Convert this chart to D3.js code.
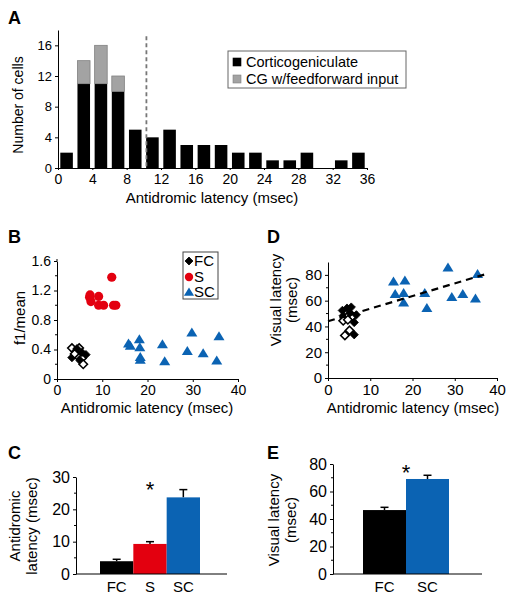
<!DOCTYPE html>
<html><head><meta charset="utf-8">
<script src="https://cdn.jsdelivr.net/npm/d3@7"></script>
<style>body{margin:0;background:#fff} svg text{font-family:"Liberation Sans",Arial,sans-serif;fill:#000}</style>
</head><body><svg id="c" width="511" height="600"></svg>
<script>
// ---------- Panel A: histogram ----------
const histBinStart = [0,2,4,6,8,10,12,14,16,18,20,22,24,26,28,30,32,34];
const histCG       = [2,11,11,10,5,4,5,3,3,3,2,2,1,1,2,0,1,2];
const histFF       = [0,3,5,2,0,0,0,0,0,0,0,0,0,0,0,0,0,0];
const histXTicks   = [0,4,8,12,16,20,24,28,32,36];
const histYTicks   = [0,4,8,12,16];
const legendA      = ["Corticogeniculate","CG w/feedforward input"];
const cutoffLatency = 10.3;

// ---------- Panel B: f1/mean vs antidromic latency ----------
const fcB_x    = [3.3,4.9,4.0,6.4,3.3,4.4,5.5,5.1,5.8,5.5,4.4,3.9];
const fcB_y    = [0.42,0.42,0.37,0.33,0.29,0.32,0.28,0.25,0.20,0.36,0.41,0.34];
const fcB_open = [1,1,0,0,0,1,1,0,1,0,0,1];
const sB_x     = [7.2,7.5,7.3,9.2,9.2,10.3,12.1,12.5,13.0];
const sB_y     = [1.11,1.05,1.14,1.12,1.0,1.0,1.38,1.0,1.0];
const scB_x    = [15.8,16.2,18.2,18.3,18.4,18.4,23.3,23.8,28.8,29.8,32.3,35.3,35.8];
const scB_y    = [0.48,0.45,0.54,0.43,0.30,0.26,0.47,0.24,0.38,0.63,0.35,0.25,0.58];
const bXTicks  = [0,10,20,30,40];
const bYTicks  = [0,0.4,0.8,1.2,1.6];
const legendB  = ["FC","S","SC"];

// ---------- Panel D: visual latency vs antidromic latency ----------
const fcD_x    = [3.4,5.5,4.5,3.6,4.7,5.8,6.7,3.6,4.7,6.2,4.0,5.1,6.2,5.2];
const fcD_y    = [52.4,55,54.2,48.3,47.8,47.8,49,44.4,45.2,43.1,33.0,36.9,33.6,50.5];
const fcD_open = [0,0,0,0,1,1,0,1,1,0,1,1,0,0];
const scD_x    = [15.5,18.2,15.9,17.9,17.9,22.9,23.4,28.4,29.3,31.9,34.9,35.4];
const scD_y    = [74.9,75.7,65.1,65.9,58.6,65.9,54.3,85.7,62.8,65.1,61.7,80.6];
const fitIntercept = 44, fitSlope = 0.98, fitXRange = [0, 37.5];
const dXTicks  = [0,10,20,30,40];
const dYTicks  = [0,20,40,60,80];

// ---------- Panel C: antidromic latency by class ----------
const cCats  = ["FC","S","SC"];
const cMeans = [3.95,9.3,23.7];
const cSems  = [0.6,0.7,2.4];
const cYTicks = [0,10,20,30];

// ---------- Panel E: visual latency by class ----------
const eCats  = ["FC","SC"];
const eMeans = [46.5,69.1];
const eSems  = [2.0,2.7];
const eYTicks = [0,20,40,60,80];

const RED = "#e3000f", BLUE = "#0b63b3", GRAY = "#a3a3a3";
const svg = d3.select("#c");

function styleAxis(g, fs){
  g.attr("font-size", null).attr("font-family", null);
  g.selectAll("text").style("font-size", fs+"px");
  g.selectAll("path,line").attr("stroke","#000");
}
function label(t,x,y){ svg.append("text").attr("x",x).attr("y",y).attr("font-weight","bold").style("font-size","18px").text(t); }
function title(t,x,y,fs,rot){
  const s = svg.append("text").attr("text-anchor","middle").style("font-size",fs+"px").text(t);
  if(rot) s.attr("transform",`translate(${x},${y}) rotate(-90)`); else s.attr("x",x).attr("y",y);
}
function minor(x0, yScale, vals, len){
  svg.append("g").selectAll("line").data(vals).join("line")
    .attr("x1",x0).attr("x2",x0-len).attr("y1",d=>yScale(d)).attr("y2",d=>yScale(d)).attr("stroke","#000");
}
function diamond(g, x, y, open, s){
  g.append("path").attr("d",`M${x},${y-s}L${x+s},${y}L${x},${y+s}L${x-s},${y}Z`)
   .attr("fill", open? "#fff":"#000").attr("stroke","#000").attr("stroke-width", open?1.6:0.8);
}
function tri(g, x, y, s, col){
  g.append("path").attr("d",`M${x},${y-s}L${x+s*1.1},${y+s*0.8}L${x-s*1.1},${y+s*0.8}Z`).attr("fill",col);
}

// ===== Panel A =====
{
  const x = d3.scaleLinear().domain([0,36]).range([58,367]);
  const y = d3.scaleLinear().domain([0,18]).range([168,30]);
  const inset = 2.3, bw = x(2)-x(0)-2*inset;
  const g = svg.append("g");
  histBinStart.forEach((b,i)=>{
    if(histCG[i]>0) g.append("rect").attr("x",x(b)+inset).attr("width",bw)
      .attr("y",y(histCG[i])).attr("height",y(0)-y(histCG[i])).attr("fill","#000");
    if(histFF[i]>0) g.append("rect").attr("x",x(b)+inset).attr("width",bw)
      .attr("y",y(histCG[i]+histFF[i])).attr("height",y(histCG[i])-y(histCG[i]+histFF[i]))
      .attr("fill",GRAY).attr("stroke","#808080").attr("stroke-width",0.8);
  });
  svg.append("line").attr("x1",x(cutoffLatency)).attr("x2",x(cutoffLatency)).attr("y1",y(17.2)).attr("y2",y(0))
    .attr("stroke","#777").attr("stroke-width",1.8).attr("stroke-dasharray","4,3");
  const ya = svg.append("g").attr("transform","translate(58,0)")
    .call(d3.axisLeft(y).tickValues(histYTicks).tickSize(3).tickSizeOuter(0).tickPadding(3));
  styleAxis(ya,13);
  const xa = svg.append("g").attr("transform","translate(0,168)")
    .call(d3.axisBottom(x).tickValues(histXTicks).tickSize(2).tickSizeOuter(0).tickPadding(4));
  styleAxis(xa,14);
  // legend
  svg.append("rect").attr("x",228).attr("y",51).attr("width",178).attr("height",37).attr("fill","#fff").attr("stroke","#666").attr("stroke-width",1);
  legendA.forEach((t,i)=>{
    svg.append("rect").attr("x",233).attr("y",58+i*17).attr("width",8).attr("height",8).attr("fill", i?GRAY:"#000").attr("stroke",i?"#808080":"#000").attr("stroke-width",0.6);
    svg.append("text").attr("x",246).attr("y",67+i*17).style("font-size","14.5px").text(t);
  });
  label("A",8,24);
  title("Number of cells",23,105,14,true);
  title("Antidromic latency (msec)",212,203,15,false);
}

// ===== Panel B =====
{
  const x = d3.scaleLinear().domain([0,40]).range([57,238]);
  const y = d3.scaleLinear().domain([0,1.6]).range([379,261]);
  const ya = svg.append("g").attr("transform","translate(57,0)")
    .call(d3.axisLeft(y).tickValues(bYTicks).tickFormat(d=>d===0?"0":d3.format(".1f")(d)).tickSize(3).tickSizeOuter(0).tickPadding(3));
  styleAxis(ya,14);
  svg.append("line").attr("x1",57).attr("x2",57).attr("y1",259).attr("y2",261).attr("stroke","#000");
  minor(57,y,[0.2,0.6,1.0,1.4],2);
  const xa = svg.append("g").attr("transform","translate(0,379)")
    .call(d3.axisBottom(x).tickValues(bXTicks).tickSize(3).tickSizeOuter(0).tickPadding(3));
  styleAxis(xa,14);
  const g = svg.append("g");
  fcB_x.forEach((v,i)=>diamond(g,x(v),y(fcB_y[i]),fcB_open[i],4.2));
  sB_x.forEach((v,i)=>g.append("circle").attr("cx",x(v)).attr("cy",y(sB_y[i])).attr("r",4.6).attr("fill",RED));
  scB_x.forEach((v,i)=>tri(g,x(v),y(scB_y[i]),5,BLUE));
  // legend
  svg.append("rect").attr("x",183).attr("y",252).attr("width",35).attr("height",47).attr("fill","none").attr("stroke","#444");
  diamond(svg,189,261,0,4);
  svg.append("circle").attr("cx",189).attr("cy",277).attr("r",4.2).attr("fill",RED);
  tri(svg,189,292,4.6,BLUE);
  legendB.forEach((t,i)=>svg.append("text").attr("x",194).attr("y",266+i*15.5).style("font-size","15px").text(t));
  label("B",8,243);
  title("f1/mean",25,318,15,true);
  title("Antidromic latency (msec)",147,413,15,false);
}

// ===== Panel D =====
{
  const x = d3.scaleLinear().domain([0,40]).range([328,497]);
  const y = d3.scaleLinear().domain([0,90]).range([378,262]);
  const ya = svg.append("g").attr("transform","translate(328,0)")
    .call(d3.axisLeft(y).tickValues(dYTicks).tickSize(3).tickSizeOuter(0).tickPadding(3));
  styleAxis(ya,15);
  minor(328,y,[10,30,50,70],2);
  const xa = svg.append("g").attr("transform","translate(0,378)")
    .call(d3.axisBottom(x).tickValues(dXTicks).tickSize(3).tickSizeOuter(0).tickPadding(3));
  styleAxis(xa,15);
  const g = svg.append("g");
  fcD_x.forEach((v,i)=>diamond(g,x(v),y(fcD_y[i]),fcD_open[i],4.2));
  scD_x.forEach((v,i)=>tri(g,x(v),y(scD_y[i]),5,BLUE));
  const line = d3.line().x(d=>x(d)).y(d=>y(fitIntercept+fitSlope*d));
  svg.append("path").attr("d",line(fitXRange)).attr("fill","none").attr("stroke","#000").attr("stroke-width",2.2).attr("stroke-dasharray","7,5");
  label("D",267,243);
  title("Visual latency",281,300,15,true);
  title("(msec)",297,300,15,true);
  title("Antidromic latency (msec)",413,413,15,false);
}

// ===== Panel C =====
{
  const x = d3.scaleBand().domain(cCats).range([100,200]).padding(0);
  const y = d3.scaleLinear().domain([0,30]).range([574,477]);
  const ya = svg.append("g").attr("transform","translate(76,0)")
    .call(d3.axisLeft(y).tickValues(cYTicks).tickSize(3).tickSizeOuter(0).tickPadding(3));
  styleAxis(ya,16);
  minor(76,y,[5,15,25],2);
  const cols = ["#000",RED,BLUE];
  const g = svg.append("g");
  cCats.forEach((c,i)=>{
    const cx = x(c)+x.bandwidth()/2;
    g.append("line").attr("x1",cx).attr("x2",cx).attr("y1",y(cMeans[i])).attr("y2",y(cMeans[i]+cSems[i])).attr("stroke","#000").attr("stroke-width",1.5);
    g.append("line").attr("x1",cx-4).attr("x2",cx+4).attr("y1",y(cMeans[i]+cSems[i])).attr("y2",y(cMeans[i]+cSems[i])).attr("stroke","#000").attr("stroke-width",1.5);
    g.append("rect").attr("x",x(c)).attr("width",x.bandwidth()).attr("y",y(cMeans[i])).attr("height",y(0)-y(cMeans[i])).attr("fill",cols[i]);
  });
  svg.append("line").attr("x1",76).attr("x2",227).attr("y1",574).attr("y2",574).attr("stroke","#000");
  const xa = svg.append("g").attr("transform","translate(0,574)").call(d3.axisBottom(x).tickSize(0).tickPadding(7));
  xa.select(".domain").remove();
  styleAxis(xa,15);
  svg.append("text").attr("x",x("S")+x.bandwidth()/2).attr("y",497).attr("text-anchor","middle").style("font-size","22px").text("*");
  label("C",8,459);
  title("Antidromic",20,526,15,true);
  title("latency (msec)",37,526,15,true);
}

// ===== Panel E =====
{
  const x = d3.scaleBand().domain(eCats).range([363,449]).padding(0);
  const y = d3.scaleLinear().domain([0,80]).range([574,464]);
  const ya = svg.append("g").attr("transform","translate(333,0)")
    .call(d3.axisLeft(y).tickValues(eYTicks).tickSize(3).tickSizeOuter(0).tickPadding(3));
  styleAxis(ya,16);
  minor(333,y,[10,30,50,70],2);
  const cols = ["#000",BLUE];
  const g = svg.append("g");
  eCats.forEach((c,i)=>{
    const cx = x(c)+x.bandwidth()/2;
    g.append("line").attr("x1",cx).attr("x2",cx).attr("y1",y(eMeans[i])).attr("y2",y(eMeans[i]+eSems[i])).attr("stroke","#000").attr("stroke-width",1.5);
    g.append("line").attr("x1",cx-4).attr("x2",cx+4).attr("y1",y(eMeans[i]+eSems[i])).attr("y2",y(eMeans[i]+eSems[i])).attr("stroke","#000").attr("stroke-width",1.5);
    g.append("rect").attr("x",x(c)).attr("width",x.bandwidth()).attr("y",y(eMeans[i])).attr("height",y(0)-y(eMeans[i])).attr("fill",cols[i]);
  });
  svg.append("line").attr("x1",333).attr("x2",482).attr("y1",574).attr("y2",574).attr("stroke","#000");
  const xa = svg.append("g").attr("transform","translate(0,574)").call(d3.axisBottom(x).tickSize(0).tickPadding(7));
  xa.select(".domain").remove();
  styleAxis(xa,15);
  svg.append("text").attr("x",x("SC")).attr("y",480).attr("text-anchor","middle").style("font-size","22px").text("*");
  label("E",267,459);
  title("Visual latency",279,520,15,true);
  title("(msec)",296,520,15,true);
}
</script></body></html>
